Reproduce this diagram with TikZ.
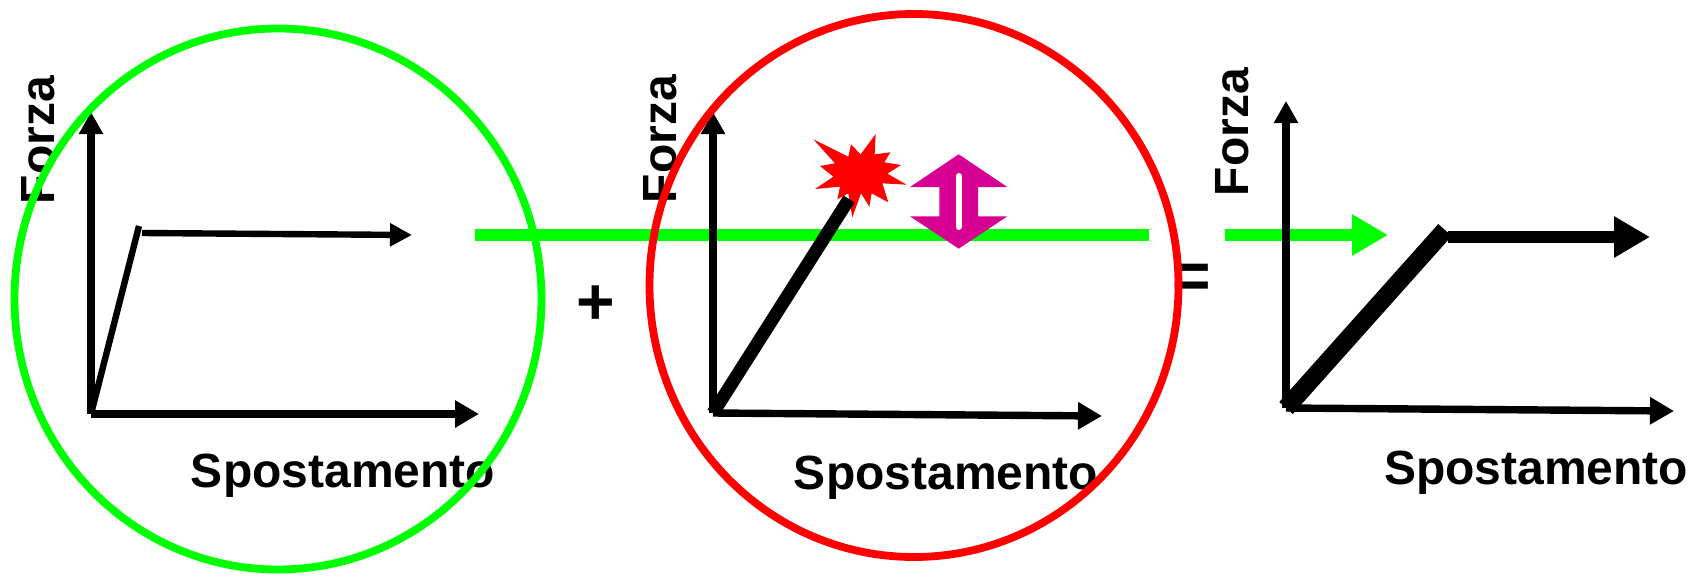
\documentclass[tikz,border=0pt]{standalone}
\usepackage{fontspec}
\setmainfont{Liberation Sans}
\usetikzlibrary{arrows.meta}
\definecolor{lime}{RGB}{0,255,0}
\definecolor{redc}{RGB}{255,0,0}
\definecolor{magc}{RGB}{214,0,147}
\tikzset{
 lab/.style={font=\fontsize{24}{28}\selectfont\bfseries,inner sep=0pt,text=black},
 sign/.style={font=\fontsize{33}{36}\selectfont\bfseries,inner sep=0pt,text=black},
 ax/.style={draw=black,line width=3.7pt,-{Triangle[length=12pt,width=13pt]}},
 ay/.style={draw=black,line width=3.7pt,-{Triangle[length=11pt,width=11.5pt]}},
 curve/.style={draw=black},
 flow/.style={draw=lime,line width=6.4pt},
}
\begin{document}
\begin{tikzpicture}[x=0.5pt,y=-0.5pt]
\useasboundingbox (0,0) rectangle (1707,578);
% named points
\coordinate (gs) at (475,235);
\coordinate (ge) at (1149,235);
\coordinate (gas) at (1225,235);
\coordinate (gae) at (1388,235);
\coordinate (o1) at (91,414);
\coordinate (y1) at (91,112);
\coordinate (x1) at (479,414);
\coordinate (k1) at (139,226);
\coordinate (p1) at (142,233);
\coordinate (e1) at (412,235);
\coordinate (o2) at (713,413);
\coordinate (y2) at (713,112);
\coordinate (x2) at (1102,416);
\coordinate (k2) at (849,199);
\coordinate (o3) at (1286,408);
\coordinate (y3) at (1286,101);
\coordinate (x3) at (1674,411);
\coordinate (k3) at (1445,230);
\coordinate (p3) at (1448,237);
\coordinate (e3) at (1650,237);
% green flow
\draw[flow] (gs) -- (ge);
\draw[flow,-{Triangle[length=18pt,width=19.5pt]}] (gas) -- (gae);
% star
\begin{scope}[shift={(780,110)},x=0.16667pt,y=-0.16667pt]
\fill[redc] (100,88)--(205,140)--(213,103)--(242,133)--(287,72)--(284,133)--(331,127)--(313,157)--(363,165)--(322,191)--(380,224)--(307,220)--(325,277)--(275,250)--(268,290)--(243,250)--(217,322)--(205,250)--(172,268)--(180,230)--(105,237)--(160,200)--(120,168)--(165,160)--cycle;
\fill[magc] (536,133)--(682,231)--(594,231)--(594,319)--(682,319)--(536,416)--(390,319)--(478,319)--(478,231)--(390,231)--cycle;
\draw[white,line width=3pt,line cap=round] (536,198)--(536,351);
\end{scope}
% graph 1
\draw[ay] (o1) -- (y1);
\draw[ax] (o1) -- (x1);
\draw[curve,line width=3.2pt] (o1) -- (k1);
\draw[curve,line width=3.2pt,-{Triangle[length=11pt,width=11pt]}] (p1) -- (e1);
% graph 2
\draw[ay] (o2) -- (y2);
\draw[ax] (o2) -- (x2);
\draw[curve,line width=6.5pt] (o2) -- (k2);
% graph 3
\draw[ay] (o3) -- (y3);
\draw[ax] (o3) -- (x3);
\draw[curve,line width=9pt] (o3) -- (k3);
\draw[curve,line width=6.2pt,-{Triangle[length=18pt,width=19.5pt]}] (p3) -- (e3);
% text
\node[lab] (s1) at (343,476) {Spostamento};
\node[lab] (s2) at (946,478) {Spostamento};
\node[lab] (s3) at (1536,473) {Spostamento};
\node[lab,rotate=90] (f1) at (38,140) {Forza};
\node[lab,rotate=90] (f2) at (660,139) {Forza};
\node[lab,rotate=90] (f3) at (1232,132) {Forza};
\node[sign] (plus) at (596,305) {+};
\node[sign] (eq) at (1192,281) {=};
% circles
\draw[lime,line width=3.9pt] (278,299) ellipse [x radius=263.5,y radius=270.5];
\draw[redc,line width=3.9pt] (914,285.5) ellipse [x radius=264.5,y radius=271.5];
\end{tikzpicture}
\end{document}
